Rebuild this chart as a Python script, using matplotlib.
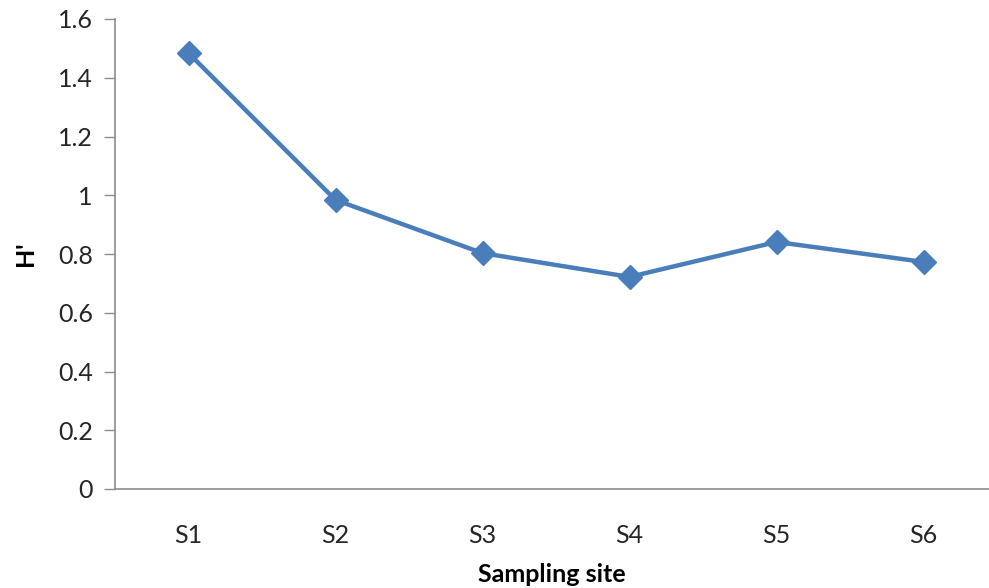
import matplotlib.pyplot as plt

sites = ["S1", "S2", "S3", "S4", "S5", "S6"]
h_index = [1.484, 0.984, 0.803, 0.722, 0.841, 0.773]
y_ticks = [0, 0.2, 0.4, 0.6, 0.8, 1, 1.2, 1.4, 1.6]
y_tick_labels = ["0", "0.2", "0.4", "0.6", "0.8", "1", "1.2", "1.4", "1.6"]

plt.rcParams['font.family'] = ['Lato', 'DejaVu Sans']

fig = plt.figure(figsize=(9.89, 5.88), dpi=100)
ax = fig.add_axes([115/989, 1 - 489/588, 1 - 115/989, (489 - 19)/588])

x = list(range(len(sites)))
ax.plot(x, h_index, color="#4A7EBB", linewidth=3.2, marker="D", markersize=12,
        markerfacecolor="#4A7EBB", markeredgecolor="#4A7EBB")

ax.set_xlim(-0.5, 5.5 - 8/147)
ax.set_ylim(0, 1.6)
ax.set_xticks(x)
ax.set_xticklabels(sites, fontsize=18, color="#262626")
ax.set_yticks(y_ticks)
ax.set_yticklabels(y_tick_labels, fontsize=18, color="#262626")
ax.tick_params(axis="x", length=0, pad=25)
ax.tick_params(axis="y", length=8, width=1, color="#8C8C8C", pad=8)

for side in ["top", "right"]:
    ax.spines[side].set_visible(False)
for side in ["left", "bottom"]:
    ax.spines[side].set_color("#8C8C8C")
    ax.spines[side].set_linewidth(1.2)

ax.set_xlabel("Sampling site", fontsize=18, fontweight="bold", labelpad=12)
ax.set_ylabel("H'", fontsize=18, fontweight="bold", labelpad=15)

fig.savefig("out.png", dpi=100)
